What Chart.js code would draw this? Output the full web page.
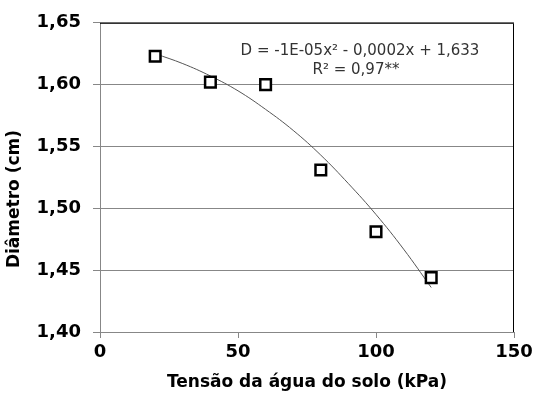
<!DOCTYPE html>
<html>
<head>
<meta charset="utf-8">
<script src="https://cdn.jsdelivr.net/npm/chart.js@4"></script>
<style>
    html, body { margin: 0; padding: 0; background: #fff; }
    #wrap { width: 537px; height: 398px; }
</style>
</head>
<body>
<div id="wrap"><canvas id="chart" width="537" height="398"></canvas></div>
<script>
// observed points (soil water tension vs diameter)
const tensao = [20, 40, 60, 80, 100, 120];
const diametro = [1.623, 1.602, 1.600, 1.531, 1.481, 1.444];

// fitted curve
const curvaX = [20, 30, 40, 50, 60, 70, 80, 90, 100, 110, 120];
const curvaY = [1.625, 1.617, 1.607, 1.595, 1.580, 1.563, 1.543, 1.520, 1.495, 1.467, 1.436];

const xTicks = [0, 50, 100, 150];
const yTicks = [1.40, 1.45, 1.50, 1.55, 1.60, 1.65];

const equacao = ['D = -1E-05x\u00b2 - 0,0002x + 1,633', 'R\u00b2 = 0,97**'];
const tituloY = 'Diâmetro (cm)';

const tickFont = { family: 'DejaVu Sans', size: 18, weight: 'bold' };
const titleFont = { family: 'DejaVu Sans', size: 17, weight: 'bold' };
const gray = '#878787';

// black top/right frame, y title and equation text
const extras = {
    id: 'extras',
    afterDraw(chart) {
        const ctx = chart.ctx;
        const a = chart.chartArea;
        ctx.save();
        ctx.strokeStyle = '#000';
        ctx.lineWidth = 1;
        ctx.beginPath();
        ctx.moveTo(a.left, a.top + 0.5);
        ctx.lineTo(a.right - 0.5, a.top + 0.5);
        ctx.lineTo(a.right - 0.5, a.bottom);
        ctx.stroke();

        // y axis title, sits a little below the middle like the original
        ctx.save();
        ctx.translate(15, a.top + (a.bottom - a.top) * 0.57);
        ctx.rotate(-Math.PI / 2);
        ctx.fillStyle = '#000';
        ctx.font = 'bold 17px "DejaVu Sans"';
        ctx.textAlign = 'center';
        ctx.textBaseline = 'middle';
        ctx.fillText(tituloY, 0, 0);
        ctx.restore();

        ctx.fillStyle = '#333';
        ctx.font = '15px "DejaVu Sans"';
        ctx.textAlign = 'center';
        ctx.textBaseline = 'middle';
        const cx = a.left + (a.right - a.left) * 0.628;
        ctx.fillText(equacao[0], cx, a.top + 28);
        ctx.fillText(equacao[1], cx - 4, a.top + 47);
        ctx.restore();
    }
};

new Chart(document.getElementById('chart'), {
    type: 'scatter',
    data: {
        datasets: [
            {
                label: 'Dados',
                data: tensao.map((x, i) => ({ x: x, y: diametro[i] })),
                pointStyle: 'rect',
                pointRadius: 7.5,
                pointBorderWidth: 2.5,
                pointBackgroundColor: '#fff',
                pointBorderColor: '#000',
                order: 0
            },
            {
                label: 'Ajuste',
                type: 'line',
                data: curvaX.map((x, i) => ({ x: x, y: curvaY[i] })),
                borderColor: '#555',
                borderWidth: 1,
                pointRadius: 0,
                tension: 0.4,
                fill: false,
                order: 1
            }
        ]
    },
    options: {
        responsive: false,
        animation: false,
        layout: { padding: { top: 20, right: 23, left: 0, bottom: 0 } },
        plugins: {
            legend: { display: false },
            tooltip: { enabled: false }
        },
        scales: {
            x: {
                type: 'linear',
                min: 0,
                max: 150,
                afterFit: s => { s.height = 66; },
                afterBuildTicks: s => { s.ticks = xTicks.map(v => ({ value: v })); },
                grid: { drawOnChartArea: false, drawTicks: true, tickLength: 6, color: gray },
                border: { color: gray, width: 1 },
                ticks: { font: tickFont, color: '#000', padding: 4 },
                title: {
                    display: true,
                    text: 'Tensão da água do solo (kPa)',
                    font: titleFont,
                    color: '#000',
                    padding: { top: 0, bottom: 5 }
                }
            },
            y: {
                type: 'linear',
                min: 1.40,
                max: 1.65,
                afterFit: s => { s.width = 100; },
                afterBuildTicks: s => { s.ticks = yTicks.map(v => ({ value: v })); },
                grid: { color: gray, tickLength: 7, lineWidth: 1 },
                border: { color: gray, width: 1 },
                ticks: {
                    font: tickFont,
                    color: '#000',
                    padding: 12,
                    callback: v => v.toFixed(2).replace('.', ',')
                }
            }
        }
    },
    plugins: [extras]
});
</script>
</body>
</html>
